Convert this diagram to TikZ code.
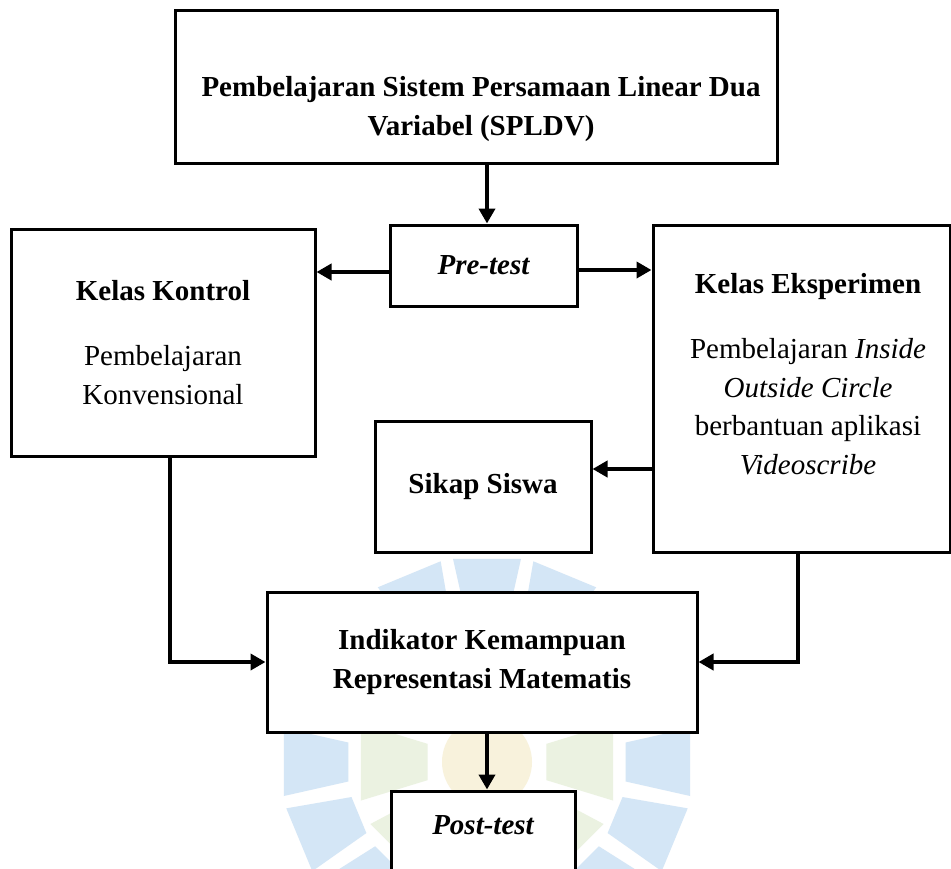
\documentclass[tikz,border=0pt]{standalone}
\usepackage{fontspec}
\setmainfont{Liberation Serif}
\usetikzlibrary{arrows.meta}
\definecolor{wmblue}{RGB}{212,230,246}
\definecolor{wmgreen}{RGB}{235,242,225}
\definecolor{wmyellow}{RGB}{248,242,220}
\tikzset{
  box/.style={draw, line width=3pt, fill=white, inner sep=0pt, align=center,
    font=\fontsize{29}{38.5}\selectfont},
  txt/.style={inner sep=0pt, align=center, font=\fontsize{29}{38.5}\selectfont},
  arr/.style={line width=4pt, -{Triangle[length=15pt,width=16pt]}},
}
\begin{document}
\begin{tikzpicture}[x=1pt, y=-1pt]
\clip (0,0) rectangle (951,868);
\fill[white] (0,0) rectangle (951,868);
% faint watermark
\begin{scope}[shift={(487,762)}]
  \foreach \a in {0,22.5,...,337.5}
    \fill[wmblue] (\a-8:140) -- (\a+8:140) -- (\a+9.5:206) -- (\a-9.5:206) -- cycle;
  \foreach \a in {0,45,...,315}
    \fill[wmgreen] (\a-17:62) -- (\a+17:62) -- (\a+17:132) -- (\a-17:132) -- cycle;
  \fill[wmyellow] (0,0) circle (45);
\end{scope}
% boxes
\node[box, minimum width=602pt, minimum height=153pt] (top) at (476,86.5) {};
\node[txt, font=\fontsize{29}{38.5}\selectfont\bfseries] (topT) at (481,109)
  {Pembelajaran Sistem Persamaan Linear Dua\\Variabel (SPLDV)};
\node[box, minimum width=187pt, minimum height=81pt] (pre) at (483.5,265.5)
  {\bfseries\itshape Pre-test};
\node[box, minimum width=304pt, minimum height=227pt] (kontrol) at (163,342.5)
  {\bfseries Kelas Kontrol\\[27pt]Pembelajaran\\Konvensional};
\node[box, minimum width=297pt, minimum height=327pt] (eksp) at (801.5,388.5) {};
\node[txt] (ekspT) at (808,374)
  {\bfseries Kelas Eksperimen\\[27pt]Pembelajaran \textit{Inside}\\\textit{Outside Circle}\\berbantuan aplikasi\\\textit{Videoscribe}};
\node[box, minimum width=216pt, minimum height=131pt] (sikap) at (483,486.5)
  {\bfseries Sikap Siswa};
\node[box, minimum width=430pt, minimum height=140pt] (indik) at (482,662)
  {\bfseries Indikator Kemampuan\\\bfseries Representasi Matematis};
\node[box, minimum width=184pt, minimum height=118pt] (post) at (483.5,850) {};
\node[txt, font=\fontsize{29}{38.5}\selectfont\bfseries\itshape] (postT) at (483,825) {Post-test};
% helper coordinates
\coordinate (ylA) at (0,272);
\coordinate (ylB) at (0,270);
\coordinate (ylC) at (0,469);
\coordinate (kx) at (170,0);
\coordinate (ex) at (798,0);
\coordinate (mx) at (487,0);
% connectors
\draw[arr] (top.south -| mx) -- (pre.north -| mx);
\draw[arr] (pre.west |- ylA) -- (kontrol.east |- ylA);
\draw[arr] (pre.east |- ylB) -- (eksp.west |- ylB);
\draw[arr] (eksp.west |- ylC) -- (sikap.east |- ylC);
\draw[arr] (kontrol.south -| kx) |- (indik.west);
\draw[arr] (eksp.south -| ex) |- (indik.east);
\draw[arr] (indik.south -| mx) -- (post.north -| mx);
\end{tikzpicture}
\end{document}
